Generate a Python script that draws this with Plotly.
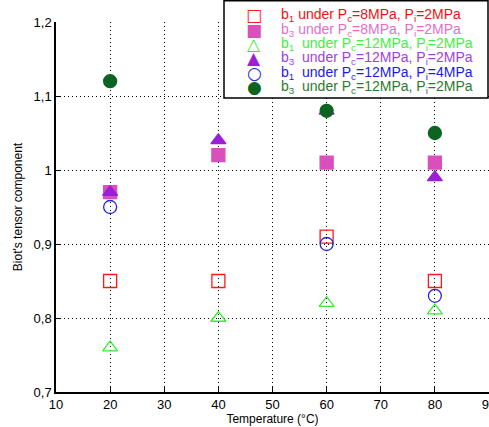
import plotly.graph_objects as go

temps = [20, 40, 60, 80]
b1_pc8 = [0.85, 0.85, 0.91, 0.85]
b3_pc8 = [0.97, 1.02, 1.01, 1.01]
b1_pc12_pi2 = [0.76, 0.80, 0.82, 0.81]
b3_pc12_pi2_tri = [0.97, 1.04, 1.08, 0.99]
temps_c = [20, 60, 80]
b1_pc12_pi4 = [0.95, 0.90, 0.83]
b3_pc12_pi2_circ = [1.12, 1.08, 1.05]

names = [
    "b<sub>1</sub> under P<sub>c</sub>=8MPa, P<sub>i</sub>=2MPa",
    "b<sub>3</sub> under P<sub>c</sub>=8MPa, P<sub>i</sub>=2MPa",
    "b<sub>1</sub>&nbsp; under P<sub>c</sub>=12MPa, P<sub>i</sub>=2MPa",
    "b<sub>3</sub>&nbsp; under P<sub>c</sub>=12MPa, P<sub>i</sub>=2MPa",
    "b<sub>1</sub>&nbsp; under P<sub>c</sub>=12MPa, P<sub>i</sub>=4MPa",
    "b<sub>3</sub>&nbsp; under P<sub>c</sub>=12MPa, P<sub>i</sub>=2MPa",
]
xs = [temps, temps, temps, temps, temps_c, temps_c]
ys = [b1_pc8, b3_pc8, b1_pc12_pi2, b3_pc12_pi2_tri, b1_pc12_pi4, b3_pc12_pi2_circ]
symbols = ["square-open", "square", "triangle-up-open", "triangle-up", "circle-open", "circle"]
glyphs = ["□", "■", "△", "▲", "○", "●"]
marker_colors = ["#ff1a1a", "#d94fbb", "#33ee33", "#9b1fd6", "#2525e0", "#0d6420"]
text_colors = ["#ee1111", "#e070c8", "#44ee44", "#a040e0", "#1a1aee", "#2d7a2d"]

fig = go.Figure()
for x, y, s, c, n in zip(xs, ys, symbols, marker_colors, names):
    fig.add_trace(go.Scatter(
        x=x, y=y, mode="markers", name=n, showlegend=False,
        marker=dict(symbol=s, size=13, color=c, line=dict(color=c, width=1.3)),
    ))

W, H = 489, 427
L, R, T, B = 56, 0, 22, 35
pw, ph = W - L - R, H - T - B

def px_x(p):
    return (p - L) / pw

def px_y(p):
    return (H - B - p) / ph

# manual legend box
fig.add_shape(type="rect", xref="paper", yref="paper",
              x0=px_x(224), x1=px_x(488), y0=px_y(98), y1=px_y(0.8),
              fillcolor="white", line=dict(color="black", width=1.5), layer="above")
row_y = [15, 29.5, 44, 58, 72.5, 87]
for i, (g, mc, tc, n) in enumerate(zip(glyphs, marker_colors, text_colors, names)):
    fig.add_annotation(xref="paper", yref="paper", x=px_x(254), y=px_y(row_y[i]),
                       text=g, showarrow=False, xanchor="center", yanchor="middle",
                       font=dict(family="DejaVu Sans", size=17, color=mc))
    fig.add_annotation(xref="paper", yref="paper", x=px_x(279), y=px_y(row_y[i]),
                       text=n, showarrow=False, xanchor="left", yanchor="middle",
                       font=dict(family="Liberation Sans", size=14, color=tc))

axis_common = dict(
    showline=True, linecolor="black", linewidth=1.5,
    ticks="inside", ticklen=5, tickcolor="black",
    showgrid=True, gridcolor="black", gridwidth=1, griddash="1px,3px",
    zeroline=False, ticklabeloverflow="allow",
    tickfont=dict(family="Liberation Sans", size=13, color="black"),
)
fig.update_xaxes(range=[10, 90], dtick=10, tick0=10,
                 title=dict(text="Temperature (°C)", font=dict(family="Liberation Sans", size=12, color="black"), standoff=2),
                 **axis_common)
fig.update_yaxes(range=[0.7, 1.2], dtick=0.1, tick0=0.7,
                 title=dict(text="Biot's tensor component", font=dict(family="Liberation Sans", size=12, color="black"), standoff=8),
                 **axis_common)

fig.update_layout(
    width=W, height=H,
    margin=dict(l=L, r=R, t=T, b=B, autoexpand=False),
    plot_bgcolor="white", paper_bgcolor="white",
    separators=",.",
    showlegend=False,
    font=dict(family="Liberation Sans", color="black"),
)
fig.write_html("out.html", config={"displayModeBar": False},
               post_script="document.body.style.margin='0';document.body.style.overflow='hidden';")
